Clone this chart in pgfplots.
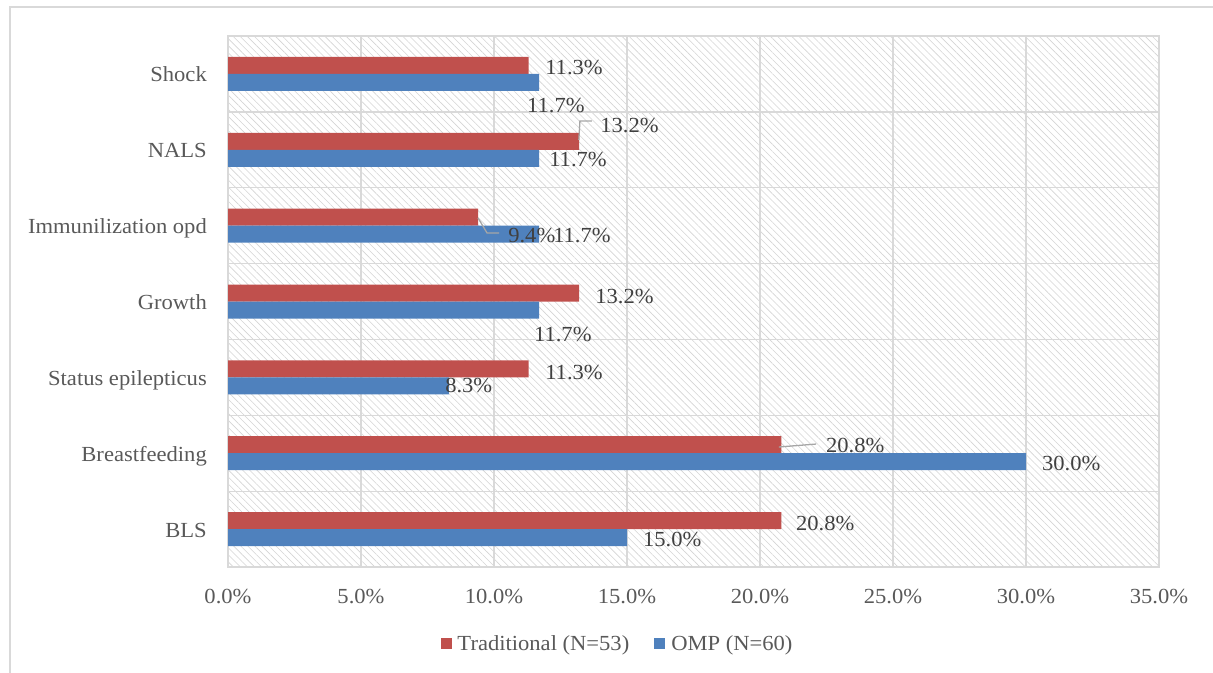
\documentclass[border=0pt]{standalone}
\usepackage{pgfplots}
\pgfplotsset{compat=1.18}
\usepackage{fontspec}
\setmainfont{Liberation Serif}[FakeStretch=1.05]
\usetikzlibrary{patterns.meta}
\definecolor{tradred}{HTML}{C0504D}
\definecolor{ompblue}{HTML}{4F81BD}
\definecolor{gridgray}{HTML}{D9D9D9}
\definecolor{hatchgray}{HTML}{D4D4D4}
\definecolor{textgray}{HTML}{595959}
\definecolor{labelgray}{HTML}{404040}
\definecolor{leadergray}{HTML}{A6A6A6}
\begin{document}
\begin{tikzpicture}[font=\fontsize{21.5bp}{26bp}\selectfont]
\useasboundingbox (0,0) rectangle (1213bp,-673bp);
\draw[gridgray, line width=1.3bp] (10bp,-673bp) -- (10bp,-7bp) -- (1213bp,-7bp);
\begin{axis}[
  at={(228bp,-567bp)}, anchor=south west,
  scale only axis, width=931bp, height=531bp,
  xbar, bar width=17bp,
  legend image code/.code={\fill[#1] (0bp,-5.5bp) rectangle (11bp,5.5bp);},
  xmin=0, xmax=35, ymin=-0.5, ymax=6.5,
  xtick={0,5,10,15,20,25,30,35},
  xticklabels={0.0\%,5.0\%,10.0\%,15.0\%,20.0\%,25.0\%,30.0\%,35.0\%},
  ytick={0,1,2,3,4,5,6},
  yticklabels={BLS,Breastfeeding,Status epilepticus,Growth,Immunilization opd,NALS,Shock},
  minor ytick={0.5,1.5,2.5,3.5,4.5,5.5},
  xmajorgrids, yminorgrids,
  major grid style={gridgray, line width=1.3bp},
  minor grid style={gridgray, line width=1.3bp},
  axis line style={gridgray, line width=1.3bp},
  major tick length=0pt, minor tick length=0pt,
  tick style={draw=none},
  font=\fontsize{21.5bp}{26bp}\selectfont,
  tick label style={text=textgray, inner sep=0pt},
  xticklabel style={anchor=base, yshift=-36bp},
  yticklabel style={anchor=base east, xshift=-21bp, yshift=-8bp},
  axis background/.style={pattern={Lines[angle=-45,distance=5bp,line width=0.6bp]}, pattern color=hatchgray},
  clip=false,
  legend style={at={(axis description cs:0.4173,-0.1441)}, anchor=center, draw=none, fill=none,
    legend columns=2, text=textgray, font=\fontsize{21.5bp}{26bp}\selectfont,
    nodes={inner sep=0pt},
    /tikz/every odd column/.append style={column sep=6bp},
    /tikz/every even column/.append style={column sep=25bp}},
]
\addplot[fill=tradred, draw=none, bar shift=8.5bp] coordinates {(20.8,0) (20.8,1) (11.3,2) (13.2,3) (9.4,4) (13.2,5) (11.3,6)};
\addplot[fill=ompblue, draw=none, bar shift=-8.5bp] coordinates {(15.0,0) (30.0,1) (8.3,2) (11.7,3) (11.7,4) (11.7,5) (11.7,6)};
\legend{Traditional (N=53), OMP (N=60)}
% leader lines
\draw[leadergray, line width=1.3bp] (axis cs:13.19,5.129) -- (axis cs:13.23,5.379) -- (axis cs:13.68,5.379);
\draw[leadergray, line width=1.3bp] (axis cs:9.40,4.101) -- (axis cs:9.74,3.903) -- (axis cs:10.19,3.903);
\draw[leadergray, line width=1.3bp] (axis cs:20.71,1.082) -- (axis cs:22.11,1.121);
% data labels
\begin{scope}[every node/.style={anchor=base west, inner sep=0pt, text=labelgray}]
\node at (axis cs:11.92,5.999) {11.3\%};
\node at (axis cs:11.24,5.485) {11.7\%};
\node at (axis cs:13.99,5.234) {13.2\%};
\node at (axis cs:12.07,4.786) {11.7\%};
\node at (axis cs:10.53,3.784) {9.4\%};
\node at (axis cs:12.22,3.784) {11.7\%};
\node at (axis cs:13.80,2.980) {13.2\%};
\node at (axis cs:11.50,2.479) {11.7\%};
\node at (axis cs:11.92,1.978) {11.3\%};
\node at (axis cs:8.16,1.807) {8.3\%};
\node at (axis cs:22.48,1.016) {20.8\%};
\node at (axis cs:30.60,0.766) {30.0\%};
\node at (axis cs:21.35,-0.025) {20.8\%};
\node at (axis cs:15.60,-0.236) {15.0\%};
\end{scope}
\end{axis}
\end{tikzpicture}
\end{document}
